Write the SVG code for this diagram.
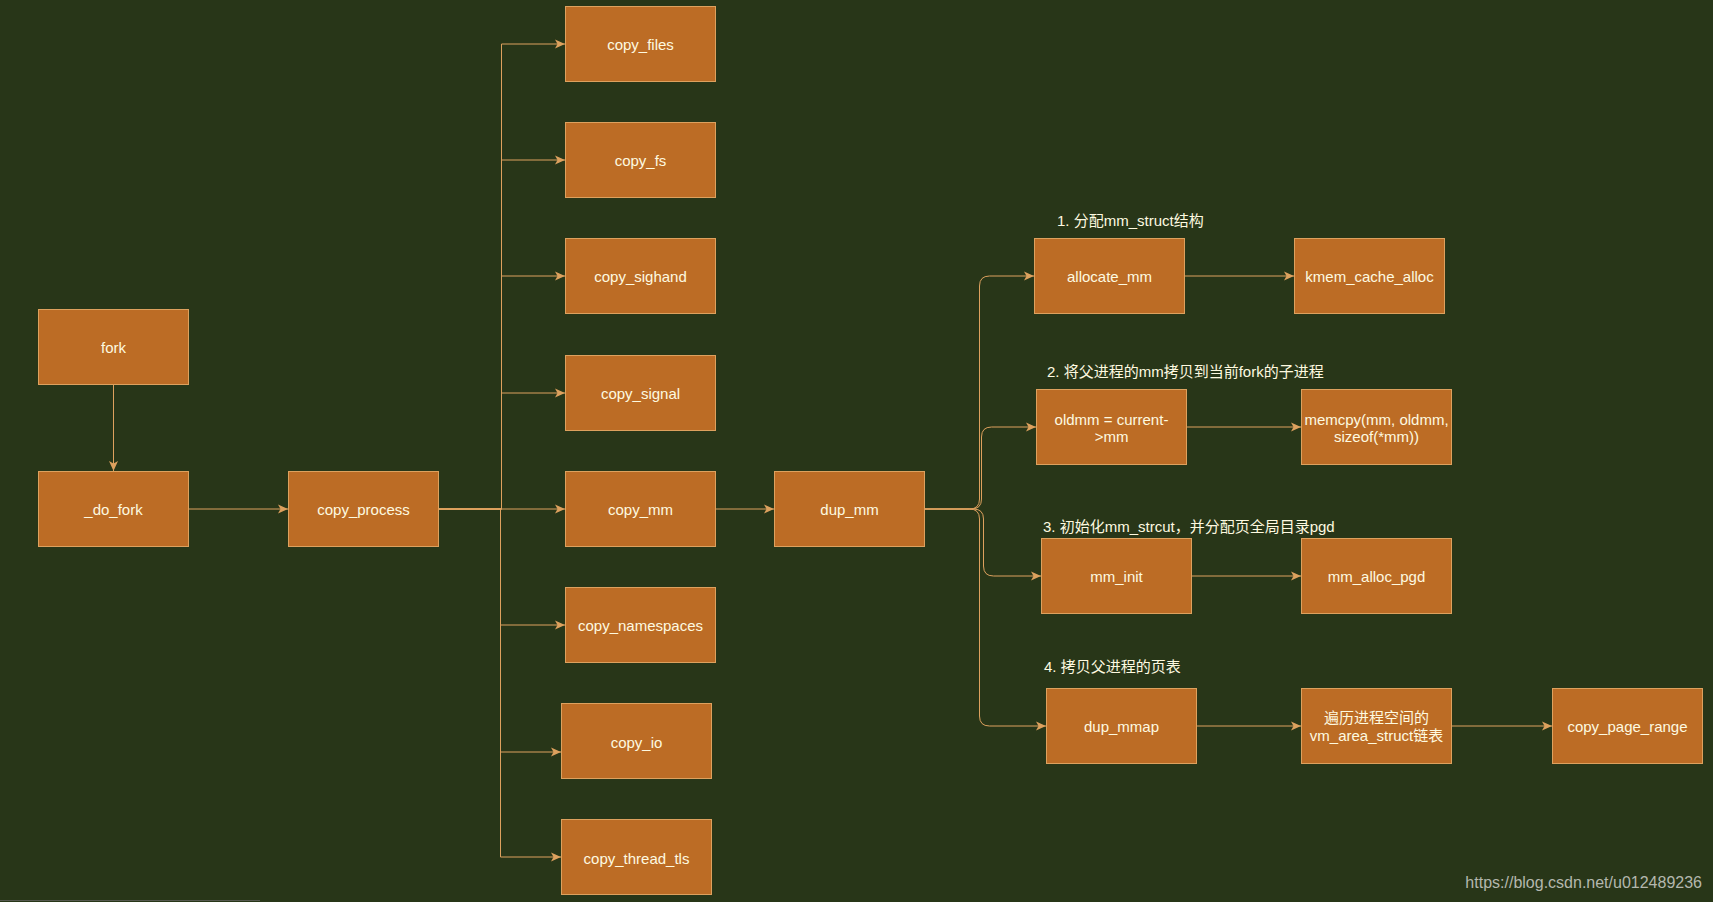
<svg xmlns="http://www.w3.org/2000/svg" width="1713" height="902" viewBox="0 0 1713 902">
<style>
.box rect{fill:#BC6C25;stroke:#DDA15E;stroke-width:1}
.box text{fill:#FEFAE0;font-family:"Liberation Sans",Arial,"Noto Sans CJK SC",sans-serif;font-size:15px;text-anchor:middle}
.lbl{fill:#FEFAE0;font-family:"Liberation Sans",Arial,"Noto Sans CJK SC",sans-serif;font-size:15px}
.edges path{fill:none;stroke:#DDA15E;stroke-width:1;marker-end:url(#arr)}
</style>
<defs>
<marker id="arr" markerUnits="userSpaceOnUse" viewBox="-11 -6 12 12" markerWidth="12" markerHeight="12" refX="0" refY="0" orient="auto">
<path d="M0,0 L-10,-4.5 L-7.5,0 L-10,4.5 Z" fill="#DDA15E"/>
</marker>
</defs>
<rect x="0" y="0" width="1713" height="902" fill="#283618"/>
<line x1="0" y1="900.5" x2="260" y2="900.5" stroke="#55594f" stroke-width="1"/>

<g class="edges">
<path d="M113.5,384 V471"/>
<path d="M189,509 H288"/>
<path d="M438,509 H501.5 V44 H565"/>
<path d="M438,509 H501.5 V160 H565"/>
<path d="M438,509 H501.5 V276 H565"/>
<path d="M438,509 H501.5 V393 H565"/>
<path d="M438,509 H565"/>
<path d="M438,509 H500.5 V625 H565"/>
<path d="M438,509 H500.5 V752 H561"/>
<path d="M438,509 H500.5 V857 H561"/>
<path d="M716,509 H774"/>
<path d="M925,509 H969.5 Q979.5,509 979.5,499 V286 Q979.5,276 989.5,276 H1034"/>
<path d="M925,509 H971.5 Q981.5,509 981.5,499 V437 Q981.5,427 991.5,427 H1036"/>
<path d="M925,509 H973.5 Q983.5,509 983.5,519 V566 Q983.5,576 993.5,576 H1041"/>
<path d="M925,509 H969.5 Q979.5,509 979.5,519 V716 Q979.5,726 989.5,726 H1046"/>
<path d="M1185,276 H1294"/>
<path d="M1187,427 H1301"/>
<path d="M1192,576 H1301"/>
<path d="M1197,726 H1301"/>
<path d="M1452,726 H1552"/>
</g>

<g id="fork" class="box"><rect x="38.5" y="309.5" width="150" height="75"/><text x="113.5" y="353">fork</text></g>
<g id="do_fork" class="box"><rect x="38.5" y="471.5" width="150" height="75"/><text x="113.5" y="515">_do_fork</text></g>
<g id="copy_process" class="box"><rect x="288.5" y="471.5" width="150" height="75"/><text x="363.5" y="515">copy_process</text></g>
<g id="copy_files" class="box"><rect x="565.5" y="6.5" width="150" height="75"/><text x="640.5" y="50">copy_files</text></g>
<g id="copy_fs" class="box"><rect x="565.5" y="122.5" width="150" height="75"/><text x="640.5" y="166">copy_fs</text></g>
<g id="copy_sighand" class="box"><rect x="565.5" y="238.5" width="150" height="75"/><text x="640.5" y="282">copy_sighand</text></g>
<g id="copy_signal" class="box"><rect x="565.5" y="355.5" width="150" height="75"/><text x="640.5" y="399">copy_signal</text></g>
<g id="copy_mm" class="box"><rect x="565.5" y="471.5" width="150" height="75"/><text x="640.5" y="515">copy_mm</text></g>
<g id="copy_namespaces" class="box"><rect x="565.5" y="587.5" width="150" height="75"/><text x="640.5" y="631">copy_namespaces</text></g>
<g id="copy_io" class="box"><rect x="561.5" y="703.5" width="150" height="75"/><text x="636.5" y="748">copy_io</text></g>
<g id="copy_thread_tls" class="box"><rect x="561.5" y="819.5" width="150" height="75"/><text x="636.5" y="864">copy_thread_tls</text></g>
<g id="dup_mm" class="box"><rect x="774.5" y="471.5" width="150" height="75"/><text x="849.5" y="515">dup_mm</text></g>
<g id="allocate_mm" class="box"><rect x="1034.5" y="238.5" width="150" height="75"/><text x="1109.5" y="282">allocate_mm</text></g>
<g id="kmem_cache_alloc" class="box"><rect x="1294.5" y="238.5" width="150" height="75"/><text x="1369.5" y="282">kmem_cache_alloc</text></g>
<g id="oldmm" class="box"><rect x="1036.5" y="389.5" width="150" height="75"/><text x="1111.5" y="425">oldmm = current-</text><text x="1111.5" y="442">&gt;mm</text></g>
<g id="memcpy" class="box"><rect x="1301.5" y="389.5" width="150" height="75"/><text x="1376.5" y="425">memcpy(mm, oldmm,</text><text x="1376.5" y="442">sizeof(*mm))</text></g>
<g id="mm_init" class="box"><rect x="1041.5" y="538.5" width="150" height="75"/><text x="1116.5" y="582">mm_init</text></g>
<g id="mm_alloc_pgd" class="box"><rect x="1301.5" y="538.5" width="150" height="75"/><text x="1376.5" y="582">mm_alloc_pgd</text></g>
<g id="dup_mmap" class="box"><rect x="1046.5" y="688.5" width="150" height="75"/><text x="1121.5" y="732">dup_mmap</text></g>
<g id="vm_area" class="box"><rect x="1301.5" y="688.5" width="150" height="75"/><text x="1376.5" y="723">遍历进程空间的</text><text x="1376.5" y="741">vm_area_struct链表</text></g>
<g id="copy_page_range" class="box"><rect x="1552.5" y="688.5" width="150" height="75"/><text x="1627.5" y="732">copy_page_range</text></g>

<g id="labels">
<text class="lbl" x="1057" y="226">1. 分配mm_struct结构</text>
<text class="lbl" x="1047" y="377">2. 将父进程的mm拷贝到当前fork的子进程</text>
<text class="lbl" x="1043" y="532">3. 初始化mm_strcut，并分配页全局目录pgd</text>
<text class="lbl" x="1044" y="672">4. 拷贝父进程的页表</text>
</g>
<text x="1702" y="888" fill="#b4b8ae" font-family="'Liberation Sans',Arial,sans-serif" font-size="16" text-anchor="end">https://blog.csdn.net/u012489236</text>
</svg>
